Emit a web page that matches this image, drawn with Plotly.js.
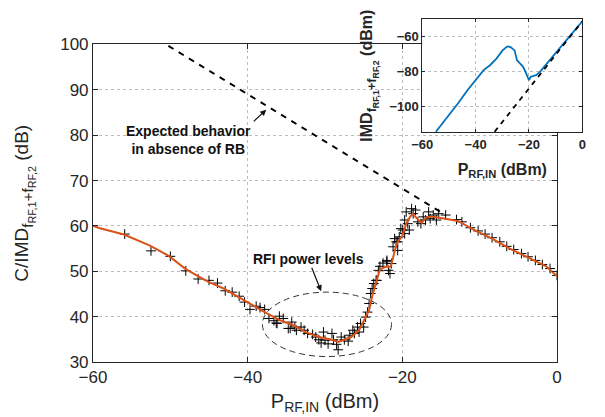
<!DOCTYPE html>
<html>
<head>
<meta charset="utf-8">
<script src="https://cdn.plot.ly/plotly-3.0.1.min.js"></script>
<style>html,body{margin:0;padding:0;background:#fff}#chart{width:605px;height:417px}</style>
</head>
<body>
<div id="chart"></div>
<script>
// ---- Main chart: measured C/IMD (crosses) and smoothed fit (orange line)
var fitX = [-60, -59.1, -56.0, -52.7, -50.2, -48.1, -46.6, -45.0, -43.1, -41.2, -39.7, -37.5, -35.8, -34.1, -32.5, -30.8, -29.1, -28.3, -27.7, -26.6, -25.6, -25.0, -24.3, -23.9, -23.5, -22.9, -22.2, -21.5, -21.1, -20.7, -20.0, -19.5, -19.0, -18.65, -18.1, -17.5, -16.9, -16.25, -15.6, -14.4, -12.8, -10.7, -8.4, -6.1, -3.75, -1.4, 0];
var fitY = [60.0, 59.5, 58.1, 55.7, 53.4, 50.6, 49.1, 47.6, 46.2, 44.3, 42.9, 40.7, 39.2, 38.1, 36.6, 35.5, 34.9, 34.4, 34.8, 35.5, 37.0, 39.2, 41.4, 44.5, 47.0, 50.4, 51.0, 51.0, 53.7, 56.2, 57.8, 60.5, 62.0, 62.7, 61.6, 60.7, 61.9, 62.1, 61.9, 61.6, 61.1, 59.1, 57.2, 55.0, 53.0, 51.1, 48.9];

var measX = [-55.9, -52.5, -50.0, -48.0, -46.4, -45.0, -43.9, -42.9, -42.0, -41.1, -40.4, -39.7, -38.9, -38.4, -37.8, -37.25, -36.6, -36.3, -35.9, -35.4, -34.75, -34.3,
  -36.2, -34.5, -33.9, -33.7, -33.1, -32.7, -32.25, -31.6, -31.2, -30.8, -30.5, -30.2, -30.0, -29.6, -29.1, -28.9, -28.5, -28.3, -27.9, -27.5, -27.0, -26.8, -26.4, -26.2, -25.8, -25.6, -25.4, -25.0, -24.75, -24.5, -24.3, -24.1, -23.9, -23.7, -23.4, -23.1, -22.9, -22.5, -22.0, -21.8, -21.4, -21.2, -21.0, -20.6, -20.2, -19.7, -19.5, -19.3,
  -23.3, -22.0, -21.6, -20.8, -20.6, -20.4, -19.95, -19.7, -19.1, -18.8, -18.6, -18.3, -18.0, -17.6, -17.3, -17.0, -16.6, -16.4, -16.0, -15.6, -15.3, -14.4, -13.0, -12.3, -11.2, -10.2, -9.3, -8.4, -7.4, -6.5, -5.6, -4.6, -3.75, -2.8, -1.9, -0.9, 0];
var measY = [58.2, 54.5, 53.3, 50.1, 48.3, 48.0, 47.4, 45.7, 45.4, 44.5, 43.2, 41.6, 42.3, 42.0, 41.6, 39.6, 39.1, 38.6, 40.1, 39.6, 37.4, 38.8,
  38.5, 37.4, 37.7, 37.0, 37.7, 37.0, 36.3, 36.1, 35.5, 34.9, 34.2, 36.6, 34.8, 34.0, 36.3, 34.9, 33.9, 32.7, 35.5, 34.9, 34.6, 35.9, 37.0, 36.3, 37.7, 36.6, 38.5, 37.7, 39.9, 41.0, 42.9, 45.1, 46.2, 47.3, 48.0, 50.2, 51.1, 51.8, 52.4, 50.2, 51.7, 55.4, 57.2, 56.5, 59.4, 58.3, 63.1, 60.5,
  48.0, 52.1, 49.5, 56.5, 54.6, 57.6, 59.1, 61.3, 59.1, 63.8, 62.7, 63.5, 60.9, 60.5, 62.0, 61.3, 63.1, 61.6, 62.4, 61.3, 62.7, 62.4, 61.4, 60.9, 59.6, 58.9, 58.2, 57.4, 56.5, 55.5, 54.8, 53.9, 53.2, 52.4, 51.5, 50.6, 49.1];

// expected behaviour in absence of RB (dashed)
var expX = [-50.25, -40.8, -14.4];
var expY = [99.7, 89.9, 62.4];

// ---- Inset: IMD power (dBm)
var imdX = [-54.9, -51.3, -46.5, -43.0, -40.0, -37.0, -34.6, -32.2, -29.9, -28.1, -26.9, -25.4, -24.5, -23.4, -22.2, -21.3, -20.0, -19.3, -17.3, -15.9, -13.2, -9.1, -5.0, 0];
var imdY = [-114.7, -107.7, -98.2, -90.7, -85.0, -79.3, -76.5, -72.7, -68.0, -65.7, -66.1, -68.0, -73.6, -75.5, -77.4, -80.3, -85.0, -83.1, -82.2, -80.3, -75.5, -68.0, -60.4, -51.3];
var imdIdealX = [-32.9, 0];
var imdIdealY = [-114.7, -51.3];

var xTicks = [-60, -40, -20, 0];
var yTicks = [30, 40, 50, 60, 70, 80, 90, 100];
var insetYTicks = [-100, -80, -60];

var FONT = 'Liberation Sans, Arial, Helvetica, sans-serif';
var INK = '#262626';
var GRID = '#bdbdbd';

function imdLabel(size) {
  return '<span style="font-size:' + size + 'px"><sub>f<sub>RF,1</sub>+f<sub>RF,2</sub></sub></span>';
}

var traces = [
  {x: measX, y: measY, xaxis: 'x', yaxis: 'y', mode: 'markers', type: 'scatter',
   marker: {symbol: 'cross-thin', size: 7, color: '#000', line: {color: '#000', width: 1}}, hoverinfo: 'skip'},
  {x: fitX, y: fitY, xaxis: 'x', yaxis: 'y', mode: 'lines', type: 'scatter',
   line: {color: '#D95319', width: 2}},
  {x: expX, y: expY, xaxis: 'x', yaxis: 'y', mode: 'lines', type: 'scatter',
   line: {color: '#000', width: 2, dash: '6px,6px'}},
  {x: imdX, y: imdY, xaxis: 'x2', yaxis: 'y2', mode: 'lines', type: 'scatter',
   line: {color: '#0072BD', width: 1.8}},
  {x: imdIdealX, y: imdIdealY, xaxis: 'x2', yaxis: 'y2', mode: 'lines', type: 'scatter',
   line: {color: '#000', width: 1.8, dash: '5px,5px'}}
];

var axCommon = {
  showline: true, linecolor: INK, linewidth: 1, mirror: 'ticks',
  ticks: 'inside', ticklen: 5, tickcolor: INK, tickwidth: 1,
  showgrid: true, gridcolor: GRID, griddash: 'dot', gridwidth: 1,
  zeroline: false, fixedrange: true
};

var layout = {
  width: 605, height: 417,
  margin: {l: 0, r: 0, t: 0, b: 0},
  paper_bgcolor: '#fff', plot_bgcolor: '#fff',
  showlegend: false,
  font: {family: FONT, color: INK},
  xaxis: Object.assign({}, axCommon, {
    domain: [0.1537, 0.9207], range: [-60, 0], tickvals: xTicks, anchor: 'y',
    tickfont: {size: 17, color: INK},
    title: {text: 'P<sub>RF,IN</sub> (dBm)', font: {size: 20, color: INK}, standoff: 7}
  }),
  yaxis: Object.assign({}, axCommon, {
    domain: [0.1319, 0.8933], range: [30, 100], tickvals: yTicks, anchor: 'x',
    tickfont: {size: 17, color: INK},
    title: {text: 'C/IMD' + imdLabel(22) + ' (dB)', font: {size: 19, color: INK}, standoff: 26}
  }),
  xaxis2: Object.assign({}, axCommon, {
    domain: [0.698, 0.9625], range: [-60, 0], tickvals: xTicks, anchor: 'y2',
    ticklen: 3,
    tickfont: {size: 13, color: INK, weight: 'bold'},
    title: {text: 'P<sub>RF,IN</sub> (dBm)', font: {size: 16, color: INK, weight: 'bold'}, standoff: 12}
  }),
  yaxis2: Object.assign({}, axCommon, {
    domain: [0.6827, 0.9544], range: [-115, -50], tickvals: insetYTicks, anchor: 'x2',
    ticklen: 3,
    tickfont: {size: 13, color: INK, weight: 'bold'},
    title: {text: 'IMD' + imdLabel(18) + ' (dBm)', font: {size: 16, color: INK, weight: 'bold'}, standoff: 12}
  }),
  shapes: [
    {type: 'circle', xref: 'x', yref: 'y', x0: -38.1, x1: -21.4, y0: 31.2, y1: 45.4,
     line: {color: '#333', width: 1, dash: '6px,4px'}, fillcolor: 'rgba(0,0,0,0)'}
  ],
  annotations: [
    {xref: 'x', yref: 'y', x: -32.1, y: 52.6, text: '<b>RFI power levels</b>', showarrow: false,
     font: {size: 14, color: '#111'}},
    {xref: 'x', yref: 'y', x: -30.5, y: 45.6, ax: -10, ay: -25, text: '', showarrow: true,
     arrowhead: 2, arrowsize: 1, arrowwidth: 1.2, arrowcolor: '#111'},
    {xref: 'x', yref: 'y', x: -47.6, y: 78.9, text: '<b>Expected behavior<br>in absence of RB</b>', showarrow: false,
     font: {size: 14, color: '#111'}},
    {xref: 'x', yref: 'y', x: -37.6, y: 85.6, ax: -14, ay: 13, text: '', showarrow: true,
     arrowhead: 2, arrowsize: 1, arrowwidth: 1.2, arrowcolor: '#111'}
  ]
};

Plotly.newPlot('chart', traces, layout, {displayModeBar: false, staticPlot: true});
</script>
</body>
</html>
